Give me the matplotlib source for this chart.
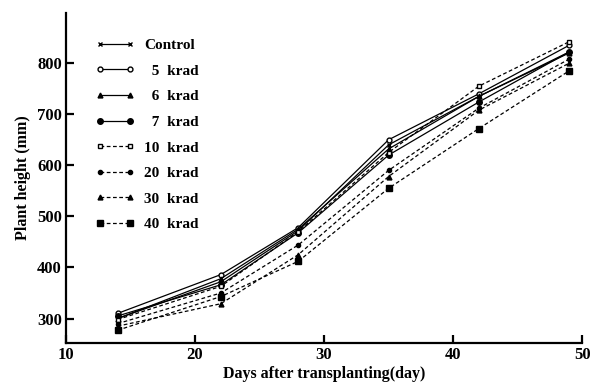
import matplotlib
matplotlib.use("Agg")
import matplotlib.pyplot as plt

days = [14, 22, 28, 35, 42, 49]
labels = ["Control", "  5  krad", "  6  krad", "  7  krad", "10  krad", "20  krad", "30  krad", "40  krad"]
control = [300, 372, 472, 640, 735, 822]
krad5 = [310, 386, 478, 650, 740, 835]
krad6 = [300, 378, 475, 632, 735, 820]
krad7 = [305, 366, 468, 620, 724, 822]
krad10 = [298, 363, 470, 625, 755, 842]
krad20 = [290, 350, 444, 590, 712, 808]
krad30 = [285, 329, 425, 578, 708, 800]
krad40 = [277, 343, 412, 555, 672, 785]
series = [control, krad5, krad6, krad7, krad10, krad20, krad30, krad40]
markers = ["x", "o", "^", "o", "s", "o", "^", "s"]
fills = ["k", "white", "k", "k", "white", "k", "k", "k"]
msizes = [3.5, 3.5, 3.5, 4, 3.5, 3, 3.5, 4]
styles = ["-", "-", "-", "-", "--", "--", "--", "--"]

plt.rcParams["font.family"] = ["Liberation Serif", "DejaVu Serif"]
plt.rcParams["font.weight"] = "bold"

fig = plt.figure(figsize=(5.91, 3.85), dpi=100)
ax = fig.add_axes([0.1117, 0.109, 0.8733, 0.857])

for lab, ys, m, fc, ms, ls in zip(labels, series, markers, fills, msizes, styles):
    ax.plot(days, ys, linestyle=ls, color="k", linewidth=0.9, marker=m,
            markersize=ms, markerfacecolor=fc, markeredgecolor="k",
            markeredgewidth=1.0, label=lab, dashes=(3, 2) if ls == "--" else (None, None))

ax.set_xlim(10, 50)
ax.set_ylim(252, 898)
ax.set_xticks([10, 20, 30, 40, 50])
ax.set_yticks([300, 400, 500, 600, 700, 800])
for s in ["top", "right"]:
    ax.spines[s].set_visible(False)
for s in ["left", "bottom"]:
    ax.spines[s].set_linewidth(1.6)
ax.tick_params(direction="in", length=6, width=1.6, labelsize=12, pad=3)
for t in ax.get_xticklabels() + ax.get_yticklabels():
    t.set_fontweight("bold")

ax.set_xlabel("Days after transplanting(day)", fontsize=11.5, fontweight="bold", labelpad=2)
ax.set_ylabel("Plant height (mm)", fontsize=11.5, fontweight="bold", labelpad=4)

leg = ax.legend(loc="upper left", bbox_to_anchor=(0.03, 0.965), frameon=False,
                numpoints=2, handlelength=2.6, handletextpad=0.6, labelspacing=0.78,
                prop={"family": "Liberation Serif", "weight": "bold", "size": 11})

fig.savefig("out.png", dpi=100)
